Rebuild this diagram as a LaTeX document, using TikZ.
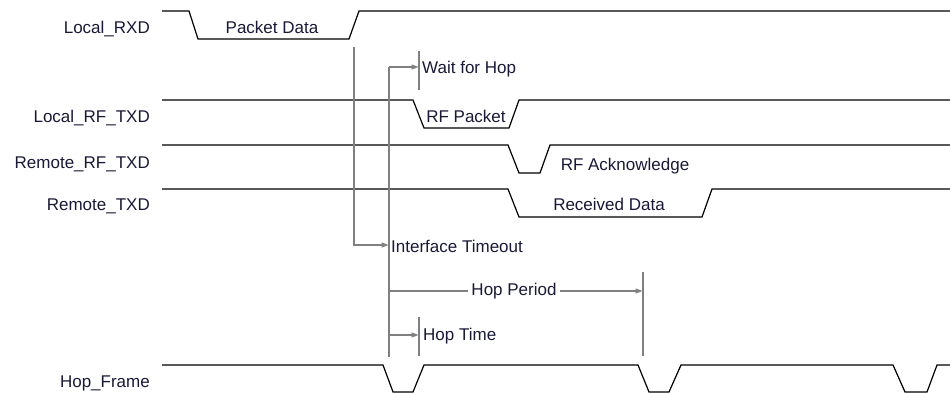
\documentclass[tikz,border=0pt]{standalone}
\usepackage{fontspec}
\setmainfont{Liberation Sans}
\usetikzlibrary{arrows.meta}
\definecolor{markgray}{RGB}{128,128,128}
\definecolor{labelblue}{RGB}{25,25,55}
\begin{document}
\begin{tikzpicture}[x=1pt, y=-1pt,
			signal/.style={draw=black, line width=1.2pt},
			marker/.style={draw=markgray, line width=1.1pt},
			timing/.style={marker, -{Triangle[length=7pt,width=5pt]}},
			siglabel/.style={anchor=base east, inner sep=0pt, text=labelblue},
			wavetext/.style={anchor=base, inner sep=0pt, text=labelblue},
			marktext/.style={anchor=base west, inner sep=0pt, text=labelblue},
			every node/.style={font=\fontsize{17}{20}\selectfont}]
			\useasboundingbox (0,0) rectangle (950,393);

			% signal names
			\node[siglabel] (lrxd) at (150,34) {Local\_RXD};
			\node[siglabel] (lrftxd) at (150,123) {Local\_RF\_TXD};
			\node[siglabel] (rrftxd) at (150,168) {Remote\_RF\_TXD};
			\node[siglabel] (rtxd) at (150,210) {Remote\_TXD};
			\node[siglabel] (hopframe) at (150,387) {Hop\_Frame};

			% waveforms
			\draw[signal] (162,11) -- (189,11) -- (198,39) -- (349,39) -- (359,11) -- (950,11);
			\draw[signal] (162,100) -- (413,100) -- (424,128) -- (509,128) -- (519,100) -- (950,100);
			\draw[signal] (162,145) -- (508,145) -- (519,173) -- (540,173) -- (550,145) -- (950,145);
			\draw[signal] (162,189) -- (508,189) -- (519,217) -- (702,217) -- (712,189) -- (950,189);
			\draw[signal] (162,365) -- (383,365) -- (393,392) -- (413,392) -- (424,365)
				-- (638,365) -- (649,392) -- (669,392) -- (681,365)
				-- (893,365) -- (905,392) -- (927,392) -- (937,365) -- (950,365);

			\node[wavetext] (pktdata) at (272,34) {Packet Data};
			\node[wavetext] (rfpkt) at (466,123) {RF Packet};
			\node[wavetext] (rfack) at (625,170) {RF Acknowledge};
			\node[wavetext] (rxdata) at (609,210) {Received Data};

			% timing marks
			\coordinate (itotop) at (354,47);
			\coordinate (itoend) at (388.5,245);
			\coordinate (hoptop) at (389,67);
			\coordinate (hopbot) at (389,357);
			\coordinate (waitend) at (418.5,67);
			\coordinate (waitup) at (419,51);
			\coordinate (waitdn) at (419,90);
			\coordinate (perstart) at (389,291);
			\coordinate (perend) at (642.5,291);
			\coordinate (perup) at (643,272);
			\coordinate (perdn) at (643,356);
			\coordinate (hopstart) at (389,335);
			\coordinate (hopend) at (418.5,335);
			\coordinate (hopup) at (419,317);
			\coordinate (hopdn) at (419,356);

			\draw[marker] (hoptop) -- (hopbot);
			\draw[timing] (itotop) |- (itoend);
			\draw[timing] (hoptop) -- (waitend);
			\draw[marker] (waitup) -- (waitdn);
			\draw[marker] (perup) -- (perdn);
			\draw[marker] (hopup) -- (hopdn);
			\draw[timing] (hopstart) -- (hopend);

			\node[marktext] (waithop) at (422,74) {Wait for Hop};
			\node[marktext] (itimeout) at (391,252) {Interface Timeout};
			\node[wavetext, inner xsep=3pt] (hopper) at (514,295) {Hop Period};
			\node[marktext] (hoptime) at (423,340) {Hop Time};
			\draw[marker] (perstart) -- (perstart -| hopper.west);
			\draw[timing] (perend -| hopper.east) -- (perend);
\end{tikzpicture}
\end{document}
